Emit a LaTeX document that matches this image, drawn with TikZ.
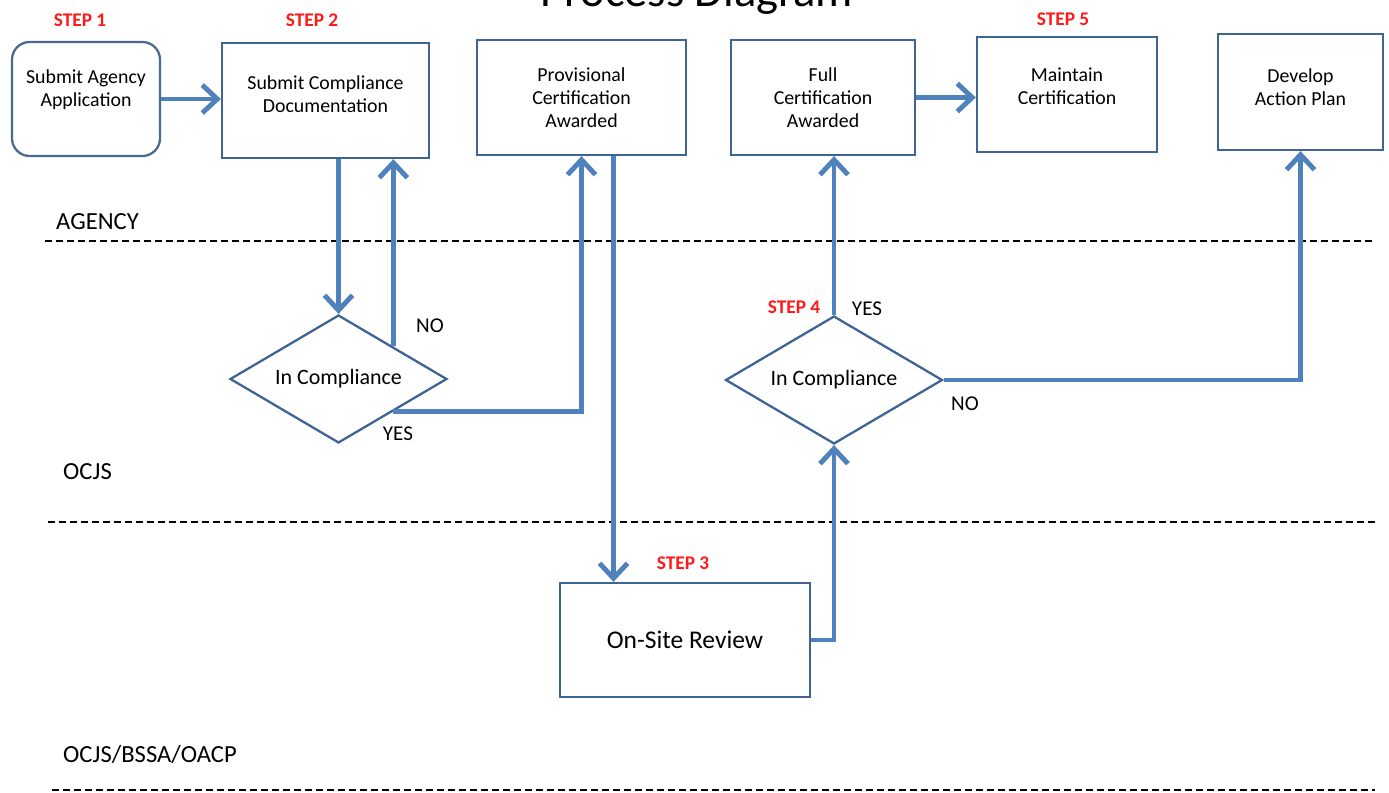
\documentclass[tikz,border=0pt]{standalone}
\usepackage{fontspec}
\setmainfont{Carlito}
\usepackage{tikz}
\usetikzlibrary{shapes.geometric, arrows.meta, positioning}
\definecolor{flowblue}{HTML}{4F81BD}
\definecolor{boxblue}{HTML}{3E6496}
\definecolor{steptext}{HTML}{FF1A1A}
\tikzstyle{process} = [
    rectangle,
    draw=boxblue,
    line width=1.3pt,
    text centered,
    align=center,
    font=\fontsize{11.3}{13}\selectfont,
    inner sep=0pt
]
\tikzstyle{decision} = [
    diamond,
    draw=boxblue,
    line width=1.3pt,
    aspect=1.7,
    inner sep=0pt,
    minimum width=4.34cm,
    minimum height=2.56cm,
    font=\fontsize{12.5}{15}\selectfont
]
\tikzstyle{steplabel} = [
    text=steptext,
    font=\fontsize{11}{13}\selectfont\bfseries
]
\tikzstyle{lanelabel} = [
    anchor=west,
    font=\fontsize{14}{16}\selectfont
]
\tikzstyle{answer} = [
    font=\fontsize{12}{14}\selectfont
]
\tikzset{
    >={Straight Barb[length=3mm,width=5.6mm]}
}
\tikzstyle{arrow} = [
    line width=2.8pt,
    ->,
    draw=flowblue
]
\tikzstyle{lane} = [
    dash pattern=on 1.5mm off 0.7mm,
    line width=0.6pt
]

\begin{document}
\begin{tikzpicture}[x=0.02cm, y=-0.02cm]
\useasboundingbox (0,0) rectangle (1389,793);

% Title (cut by the page edge)
\node (title) [anchor=base, font=\fontsize{26.5}{30}\selectfont] at (697,7) {Process Diagram};

% Boxes
\node (app) [process, rounded corners=10pt, draw=boxblue!80!gray, minimum width=2.96cm, minimum height=2.28cm] at (86,99)
{Submit Agency\\Application\\[-1pt]};
\node (docs) [process, minimum width=4.14cm, minimum height=2.3cm] at (325.5,100.5)
{Submit Compliance\\Documentation\\[-6pt]};
\node (provcert) [process, minimum width=4.18cm, minimum height=2.3cm] at (581.5,97.5)
{Provisional\\Certification\\Awarded};
\node (fullcert) [process, minimum width=3.68cm, minimum height=2.3cm] at (823,97.5)
{Full\\Certification\\Awarded};
\node (maintain) [process, minimum width=3.6cm, minimum height=2.3cm] at (1067,94.5)
{Maintain\\Certification\\[-4pt]};
\node (actplan) [process, minimum width=3.3cm, minimum height=2.32cm] at (1300.5,92)
{Develop\\Action Plan\\[-7pt]};

\node (comply1) [decision] at (338.5,379) {In Compliance};
\node (comply2) [decision] at (834,380) {In Compliance};

\node (onsite) [process, minimum width=5cm, minimum height=2.28cm, font=\fontsize{14.5}{17}\selectfont] at (685,640)
{On-Site Review};

% Step labels
\node (step1) [steplabel] at (80,20) {STEP 1};
\node (step2) [steplabel] at (312,20) {STEP 2};
\node (step3) [steplabel] at (683,563) {STEP 3};
\node (step4) [steplabel] at (794,307) {STEP 4};
\node (step5) [steplabel] at (1063,19) {STEP 5};

% Answers
\node (no1) [answer] at (430,326) {NO};
\node (yes1) [answer] at (398,434) {YES};
\node (yes2) [answer] at (867,309) {YES};
\node (no2) [answer] at (965,404) {NO};

% Lanes
\node (agency) [lanelabel] at (50,222) {AGENCY};
\node (ocjs) [lanelabel] at (57,472) {OCJS};
\node (bssa) [lanelabel] at (57,754) {OCJS/BSSA/OACP};
\draw [lane] (45,241) -- (1372,241);
\draw [lane] (48,522) -- (1375,522);
\draw [lane] (52,790) -- (1375,790);

% Arrows
\draw [arrow] (app.east) -- (app.east -| docs.west);

\draw [arrow] (docs.south -| comply1.north) -- (comply1.north);

\draw [arrow] (comply1.north east) -- (comply1.north east |- docs.south);

\draw [arrow] (comply1.south east) -| (provcert.south);

\draw [arrow] ([xshift=0.64cm]provcert.south) -- ([xshift=0.64cm]provcert.south |- onsite.north);

\draw [arrow] (onsite.east) -| (comply2.south);

\draw [arrow] (comply2.north) -- (comply2.north |- fullcert.south);

\draw [arrow] (comply2.east) -| (actplan.south);

\draw [arrow] (fullcert.east) -- (fullcert.east -| maintain.west);

\end{tikzpicture}
\end{document}
